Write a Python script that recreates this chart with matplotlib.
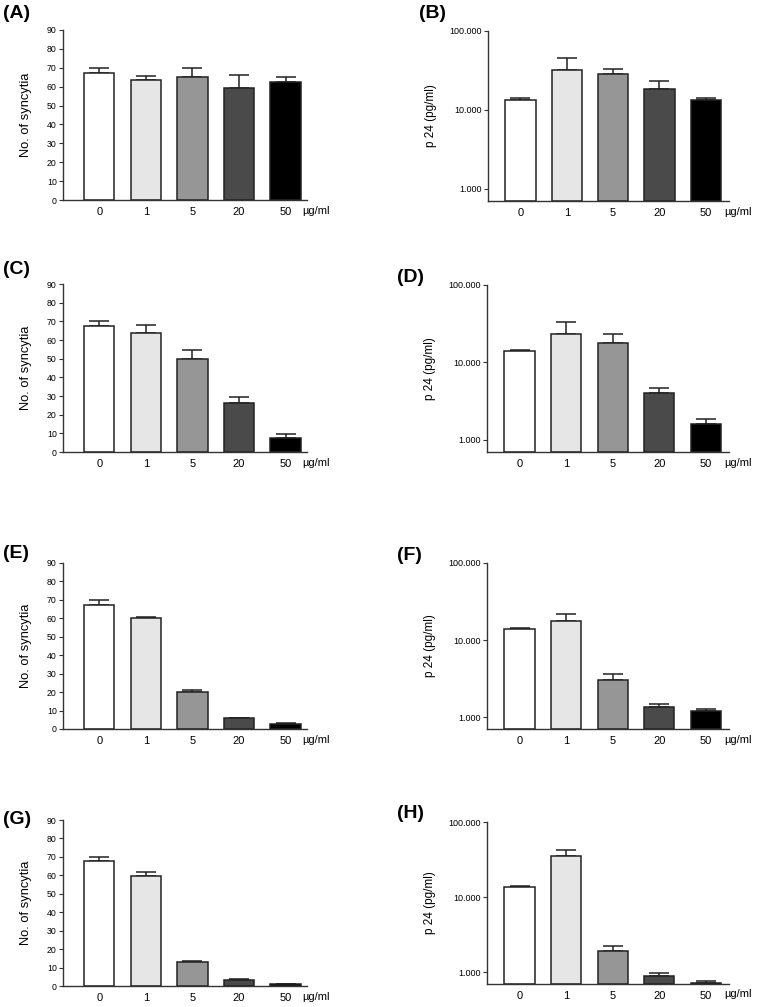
import numpy as np
import matplotlib
matplotlib.use('Agg')
import matplotlib.pyplot as plt
from matplotlib.ticker import FixedLocator, NullLocator

plt.rcParams['font.family'] = ['Liberation Sans', 'DejaVu Sans']

# doses (µg/ml)
doses = ['0', '1', '5', '20', '50']
bar_colors = ['#ffffff', '#e6e6e6', '#969696', '#4a4a4a', '#000000']

# syncytia counts (mean, upper SEM) - panels A, C, E, G
syn_A = [67.4, 63.5, 65.1, 59.5, 62.3]
syn_A_err = [2.3, 2.3, 4.6, 6.8, 3.0]
syn_C = [67.6, 63.7, 49.8, 26.0, 7.5]
syn_C_err = [2.5, 4.6, 4.8, 3.2, 1.9]
syn_E = [67.1, 60.1, 20.0, 5.8, 2.9]
syn_E_err = [2.9, 0.7, 1.4, 0.2, 0.2]
syn_G = [67.7, 59.4, 12.9, 3.4, 1.1]
syn_G_err = [2.4, 2.5, 0.7, 0.2, 0.2]

# p24 (pg/ml) - panels B, D, F, H
p24_B = [13400, 32000, 28800, 18400, 13300]
p24_B_err = [900, 13000, 3900, 4700, 1000]
p24_D = [13900, 23200, 18100, 4100, 1630]
p24_D_err = [500, 10300, 5300, 610, 210]
p24_F = [14000, 17500, 3020, 1350, 1200]
p24_F_err = [450, 4500, 560, 140, 70]
p24_H = [13550, 35100, 1930, 885, 730]
p24_H_err = [420, 7600, 300, 95, 45]

syn_ticks = list(range(0, 91, 10))
p24_ticks = [1000, 10000, 100000]
p24_ticklabels = ['1.000', '10.000', '100.000']

W, H = 759, 1007
fig = plt.figure(figsize=(W / 100, H / 100), dpi=100)


def rect(l, t, r, b):
    return [l / W, 1 - b / H, (r - l) / W, (b - t) / H]


def draw(ax, vals, errs, log=False):
    x = np.arange(len(doses))
    base = 700 if log else 0
    ax.errorbar(x, vals, yerr=[np.zeros(len(vals)), errs], fmt='none',
                ecolor='#222222', elinewidth=1.1, capsize=7.5, capthick=1.1, zorder=1)
    ax.bar(x, np.array(vals) - base, bottom=base, width=0.65, color=bar_colors,
           edgecolor='#222222', linewidth=1.1, zorder=2)
    for s in ['top', 'right']:
        ax.spines[s].set_visible(False)
    for s in ['left', 'bottom']:
        ax.spines[s].set_color('#333333')
        ax.spines[s].set_linewidth(1.0)
    ax.set_xticks(x)
    ax.set_xticklabels(doses, fontsize=8)
    ax.tick_params(axis='x', length=0, pad=5)
    ax.tick_params(axis='y', length=3, width=0.8, color='#333333', pad=1.5)
    ax.text(0.98, -0.064, 'µg/ml', transform=ax.transAxes, ha='left', va='center', fontsize=8)


left_rects = [(63, 30, 307, 200), (63, 284, 307, 452), (63, 563, 307, 729), (63, 820, 307, 986)]
right_rects = [(488, 31, 729, 201), (487, 285, 729, 452), (487, 563, 729, 729), (487, 822, 729, 984)]
syn_sets = [(syn_A, syn_A_err), (syn_C, syn_C_err), (syn_E, syn_E_err), (syn_G, syn_G_err)]
p24_sets = [(p24_B, p24_B_err), (p24_D, p24_D_err), (p24_F, p24_F_err), (p24_H, p24_H_err)]

for r, (v, e) in zip(left_rects, syn_sets):
    ax = fig.add_axes(rect(*r))
    draw(ax, v, e)
    ax.set_xlim(-0.78, 4.46)
    ax.set_ylim(0, 90)
    ax.set_yticks(syn_ticks)
    ax.set_yticklabels([str(t) for t in syn_ticks], fontsize=6.3)
    ax.set_ylabel('No. of syncytia', fontsize=9.3, labelpad=11)

for r, (v, e) in zip(right_rects, p24_sets):
    ax = fig.add_axes(rect(*r))
    ax.set_yscale('log')
    draw(ax, v, e, log=True)
    ax.set_xlim(-0.7, 4.5)
    ax.set_ylim(700, 100000)
    ax.yaxis.set_major_locator(FixedLocator(p24_ticks))
    ax.yaxis.set_minor_locator(NullLocator())
    ax.set_yticklabels(p24_ticklabels, fontsize=6.5)
    ax.set_ylabel('p 24 (pg/ml)', fontsize=8.5, labelpad=9)

# panel letters
letters = [('(A)', 3, 14), ('(B)', 419, 14), ('(C)', 3, 270), ('(D)', 397, 277),
           ('(E)', 3, 553), ('(F)', 397, 555), ('(G)', 3, 820), ('(H)', 397, 813)]
for t, px, py in letters:
    fig.text(px / W, 1 - py / H, t, fontsize=14, fontweight='bold', ha='left', va='center')

fig.savefig('out.png', dpi=100)
